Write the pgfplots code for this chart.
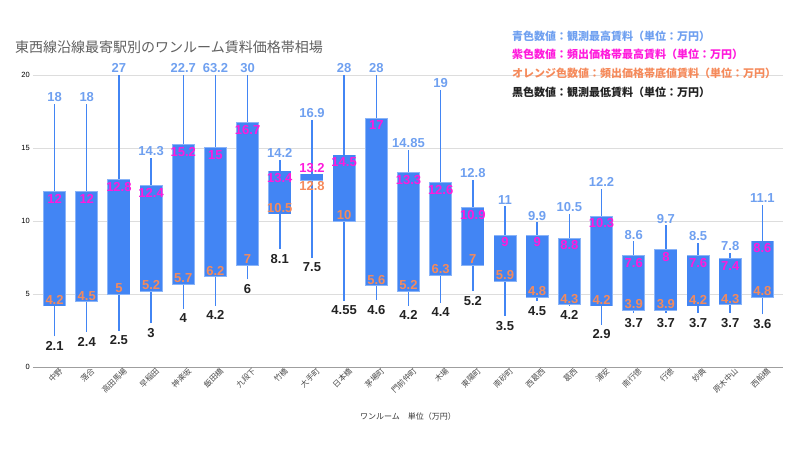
\documentclass[border=0pt]{standalone}
\usepackage{pgfplots}
\pgfplotsset{compat=1.18}
\usepackage{pgfplotstable}
\usepackage{fontspec}
\setmainfont{Liberation Sans}
\newfontfamily\cjk{Noto Sans CJK JP}
\definecolor{boxblue}{HTML}{4285F4}
\definecolor{boxedge}{HTML}{8AB4F8}
\definecolor{lblue}{HTML}{6FA0F0}
\definecolor{lmag}{HTML}{FF1ADC}
\definecolor{lorange}{HTML}{F58A5B}
\definecolor{ldark}{HTML}{222222}
\definecolor{gridgray}{HTML}{DDDDDD}
\definecolor{titlegray}{HTML}{5F5F5F}

\pgfplotstableread{
i max high low min
0 18 12 4.2 2.1
1 18 12 4.5 2.4
2 27 12.8 5 2.5
3 14.3 12.4 5.2 3
4 22.7 15.2 5.7 4
5 63.2 15 6.2 4.2
6 30 16.7 7 6
7 14.2 13.4 10.5 8.1
8 16.9 13.2 12.8 7.5
9 28 14.5 10 4.55
10 28 17 5.6 4.6
11 14.85 13.3 5.2 4.2
12 19 12.6 6.3 4.4
13 12.8 10.9 7 5.2
14 11 9 5.9 3.5
15 9.9 9 4.8 4.5
16 10.5 8.8 4.3 4.2
17 12.2 10.3 4.2 2.9
18 8.6 7.6 3.9 3.7
19 9.7 8 3.9 3.7
20 8.5 7.6 4.2 3.7
21 7.8 7.4 4.3 3.7
22 11.1 8.6 4.8 3.6
}\data

\begin{document}
\begin{tikzpicture}
\path[use as bounding box] (-33pt,-96pt) rectangle (767pt,367pt);
\begin{axis}[
  at={(0pt,0pt)}, anchor=south west, scale only axis,
  width=750pt, height=292pt,
  xmin=-0.67, xmax=22.64, ymin=0, ymax=20,
  clip=false,
  axis lines*=left,
  y axis line style={draw=none},
  x axis line style={draw=gray!75, line width=1pt},
  tick style={draw=none},
  ytick={0,5,10,15,20},
  ymajorgrids, grid style={draw=gridgray, line width=0.8pt},
  /pgf/number format/assume math mode=true,
  yticklabel style={font=\fontsize{7.5}{8}\selectfont, text=black, inner sep=2pt, xshift=-1pt},
  xtick={0,...,22},
  xticklabels={中野,落合,高田馬場,早稲田,神楽坂,飯田橋,九段下,竹橋,大手町,日本橋,茅場町,門前仲町,木場,東陽町,南砂町,西葛西,葛西,浦安,南行徳,行徳,妙典,原木中山,西船橋},
  xticklabel style={rotate=45, anchor=north east, font=\cjk\fontsize{7.8}{8}\selectfont, text=black!70, inner sep=0.5pt, xshift=3.5pt, yshift=-2pt},
  xlabel={ワンルーム　単位（万円）},
  xlabel style={at={(axis description cs:0.5,-0.171)}, anchor=center, font=\cjk\fontsize{8}{8}\selectfont, text=black!80},
  point meta=explicit symbolic,
  every axis plot/.append style={no markers, draw=none},
]
% whiskers
\addplot[forget plot,
  error bars/.cd, y dir=plus, y explicit, error mark=none,
  error bar style={line width=1.5pt, draw=boxblue}]
  table[x=i, y=min, y error plus expr={min(\thisrow{max},20)-\thisrow{min}}] {\data};
% box edges
\addplot[forget plot,
  error bars/.cd, y dir=plus, y explicit, error mark=none,
  error bar style={line width=23pt, draw=boxedge}]
  table[x=i, y expr={\thisrow{low}-0.05}, y error plus expr={\thisrow{high}-\thisrow{low}+0.1}] {\data};
% boxes
\addplot[forget plot,
  error bars/.cd, y dir=plus, y explicit, error mark=none,
  error bar style={line width=21.5pt, draw=boxblue}]
  table[x=i, y=low, y error plus expr={\thisrow{high}-\thisrow{low}}] {\data};
% labels: max
\addplot[nodes near coords,
  nodes near coords style={anchor=south, text=lblue, font=\bfseries\fontsize{13}{13}\selectfont, inner sep=2pt}]
  table[x=i, y expr={min(\thisrow{max},20)}, meta=max] {\data};
% labels: high
\addplot[nodes near coords, skip coords between index={8}{9},
  nodes near coords style={anchor=north, text=lmag, font=\bfseries\fontsize{13}{13}\selectfont, inner sep=2pt}]
  table[x=i, y=high, meta=high] {\data};
% labels: low
\addplot[nodes near coords, skip coords between index={8}{9},
  nodes near coords style={anchor=south, text=lorange, font=\bfseries\fontsize{13}{13}\selectfont, inner sep=0.8pt}]
  table[x=i, y=low, meta=low] {\data};
% labels: min
\addplot[nodes near coords,
  nodes near coords style={anchor=north, text=ldark, font=\bfseries\fontsize{13}{13}\selectfont, inner sep=5pt}]
  table[x=i, y=min, meta=min] {\data};
% Otemachi special placement
\addplot[nodes near coords,
  nodes near coords style={anchor=south, text=lmag, font=\bfseries\fontsize{13}{13}\selectfont, inner sep=1.5pt}]
  coordinates {(8,13.2) [13.2]};
\addplot[nodes near coords,
  nodes near coords style={anchor=north, text=lorange, font=\bfseries\fontsize{13}{13}\selectfont, inner sep=1.5pt}]
  coordinates {(8,12.8) [12.8]};
\end{axis}
\node[anchor=west, text=titlegray, font=\cjk\fontsize{14}{14}\selectfont, inner sep=0pt] at (-18pt,320pt) {東西線沿線最寄駅別のワンルーム賃料価格帯相場};
\begin{scope}[every node/.style={anchor=west, inner sep=0pt, font=\cjk\bfseries\fontsize{11}{11}\selectfont}]
\node[text=lblue] at (479pt,331pt) {青色数値：観測最高賃料（単位：万円）};
\node[text=lmag] at (479pt,313pt) {紫色数値：頻出価格帯最高賃料（単位：万円）};
\node[text=lorange] at (479pt,294pt) {オレンジ色数値：頻出価格帯底値賃料（単位：万円）};
\node[text=ldark] at (479pt,275pt) {黒色数値：観測最低賃料（単位：万円）};
\end{scope}
\end{tikzpicture}
\end{document}
